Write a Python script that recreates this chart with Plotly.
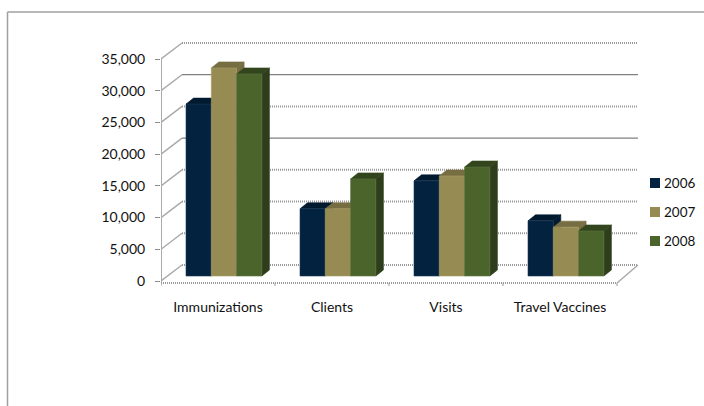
import plotly.graph_objects as go

categories = ["Immunizations", "Clients", "Visits", "Travel Vaccines"]
years = ["2006", "2007", "2008"]
values_2006 = [27100, 10600, 15000, 8700]
values_2007 = [32800, 10600, 15770, 7700]
values_2008 = [31850, 15300, 17180, 7100]
y_ticks = [0, 5000, 10000, 15000, 20000, 25000, 30000, 35000]
grid_dotted = [True, True, True, True, False, True, False, True]

front_colors = ["#02223F", "#968B52", "#4A642C"]
top_colors = ["#011A30", "#776D42", "#33451C"]
side_colors = ["#011A30", "#776D42", "#2E3D1B"]
edge_colors = ["#1C3A55", "#A89D66", "#5C7640"]

W, H = 704, 406
L, R, T, B = 161, 640, 40, 292
CAT_PX = 114
UNIT = 35000 / 222           # value units per pixel
Y0 = 281


def xu(px):
    return px / CAT_PX


def yu(px):
    return px * UNIT


fig = go.Figure()

# bars, back to front within each group
BAR_W = xu(25.3)
GROUP_OFF = xu(25)
DX, DY = xu(7.5), yu(6)
BASE = yu(5)
series = [values_2006, values_2007, values_2008]
for s, vals in enumerate(series):
    fx, fy, tx, ty, sx, sy = [], [], [], [], [], []
    for c, v in enumerate(vals):
        x0 = c + GROUP_OFF + s * BAR_W
        x1 = x0 + BAR_W
        y0, y1 = BASE, BASE + v
        fx += [x0, x1, x1, x0, x0, None]
        fy += [y0, y0, y1, y1, y0, None]
        tx += [x0, x1, x1 + DX, x0 + DX, x0, None]
        ty += [y1, y1, y1 + DY, y1 + DY, y1, None]
        sx += [x1, x1 + DX, x1 + DX, x1, x1, None]
        sy += [y0, y0 + DY, y1 + DY, y1, y0, None]
    for xs, ys, col, line in [(sx, sy, side_colors[s], side_colors[s]),
                              (tx, ty, top_colors[s], top_colors[s]),
                              (fx, fy, front_colors[s], edge_colors[s])]:
        fig.add_trace(go.Scatter(x=xs, y=ys, mode="lines", fill="toself", fillcolor=col,
                                 line=dict(color=line, width=0.6), name=years[s],
                                 showlegend=False, hoverinfo="skip"))

# walls and floor, below the bars
shapes = []
back_dx, back_dy = xu(21), yu(16)
right_end = xu(638 - L)
for i, t in enumerate(y_ticks):
    shapes.append(dict(type="line", xref="x", yref="y", layer="below", x0=0, y0=t,
                       x1=back_dx, y1=t + back_dy, line=dict(color="#A8A8A8", width=1.4)))
    style = (dict(color="#999999", width=2, dash="1px,1px") if grid_dotted[i]
             else dict(color="#808080", width=1.2, dash="solid"))
    shapes.append(dict(type="line", xref="x", yref="y", layer="below", x0=back_dx, y0=t + back_dy,
                       x1=right_end, y1=t + back_dy, line=style))
# y axis line
shapes.append(dict(type="line", xref="x", yref="y", layer="below", x0=0, y0=yu(-2), x1=0, y1=35000,
                   line=dict(color="#ABABAB", width=2)))
# floor front and right edge
floor_y = yu(-2)
shapes.append(dict(type="line", xref="x", yref="y", layer="below", x0=0, y0=floor_y, x1=len(categories),
                   y1=floor_y, line=dict(color="#999999", width=2, dash="1px,1px")))
shapes.append(dict(type="line", xref="x", yref="y", layer="below", x0=len(categories), y0=floor_y,
                   x1=right_end, y1=back_dy, line=dict(color="#A8A8A8", width=1.4)))
for c in range(len(categories) + 1):
    shapes.append(dict(type="line", xref="x", yref="y", layer="below", x0=c, y0=floor_y, x1=c,
                       y1=floor_y - yu(3), line=dict(color="#9A9A9A", width=1)))

# outer frame: top and left edges only
frame = "#A0A0A0"
for x0, y0, x1, y1 in [(7.5, 12, 704, 12), (7.5, 12, 7.5, 406)]:
    shapes.append(dict(type="line", xref="paper", yref="paper", layer="below",
                       x0=(x0 - L) / (R - L), x1=(x1 - L) / (R - L),
                       y0=(B - y0) / (B - T), y1=(B - y1) / (B - T),
                       line=dict(color=frame, width=1.5)))

# legend
annotations = []
for s, (yr, py) in enumerate(zip(years, [183, 212, 241])):
    shapes.append(dict(type="rect", xref="paper", yref="paper", layer="above",
                       x0=(650 - L) / (R - L), x1=(660 - L) / (R - L),
                       y0=(B - (py + 5)) / (B - T), y1=(B - (py - 5)) / (B - T),
                       fillcolor=front_colors[s], line=dict(width=0)))
    annotations.append(dict(text=yr, xref="paper", yref="paper", showarrow=False, xanchor="left",
                            x=(662 - L) / (R - L), y=(B - py) / (B - T), yanchor="middle",
                            font=dict(family="Lato", size=13.5, color="#111111")))

fig.update_layout(
    width=W, height=H, margin=dict(l=L, r=W - R, t=T, b=H - B, autoexpand=False),
    paper_bgcolor="white", plot_bgcolor="rgba(0,0,0,0)", showlegend=False,
    shapes=shapes, annotations=annotations,
    xaxis=dict(range=[0, xu(R - L)], tickmode="array", tickvals=[i + 0.5 for i in range(len(categories))],
               ticktext=categories, ticks="", showgrid=False, zeroline=False, showline=False,
               ticklabelstandoff=5, tickfont=dict(family="Lato", size=14, color="#111111")),
    yaxis=dict(range=[yu(Y0 - B), yu(Y0 - T)], tickmode="array", tickvals=y_ticks,
               ticktext=[f"{t:,}" for t in y_ticks], ticks="outside", ticklen=5, tickcolor="#8A8A8A",
               showgrid=False, zeroline=False, showline=False, ticklabelstandoff=7,
               tickfont=dict(family="Lato", size=14, color="#111111")),
)
fig.write_html("out.html", config={"displayModeBar": False},
               post_script="document.body.style.margin='0';document.body.style.overflow='hidden';")
